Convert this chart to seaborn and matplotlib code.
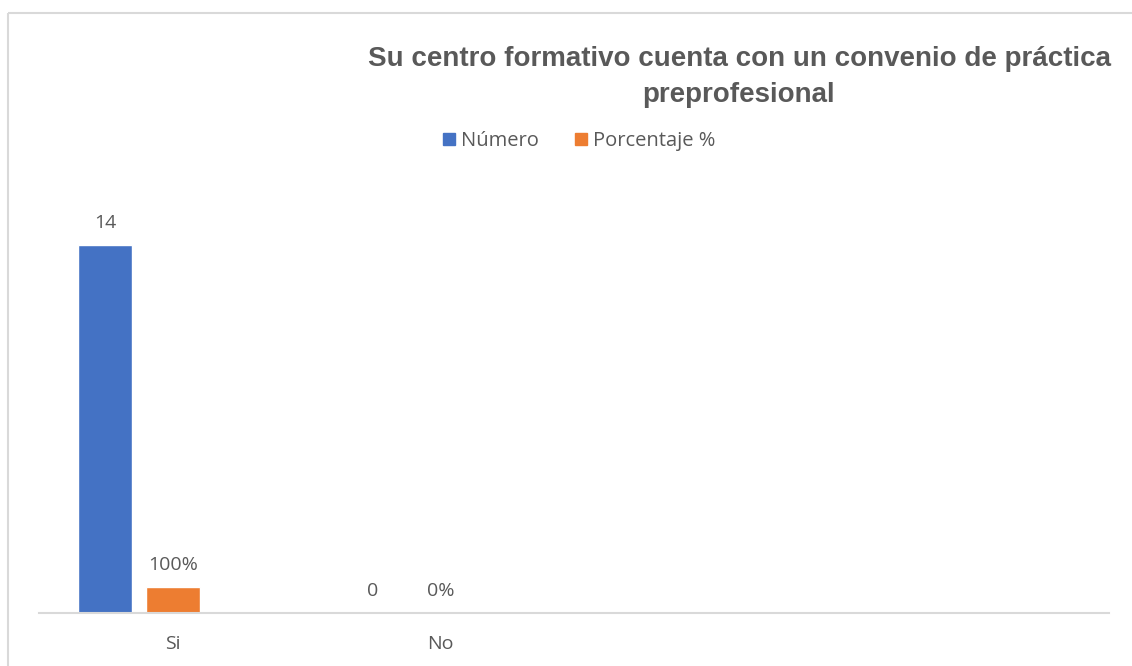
import numpy as np
import pandas as pd
import seaborn as sns
import matplotlib.pyplot as plt
from matplotlib.patches import Patch
from matplotlib.lines import Line2D

# data
categories = ["Si", "No"]
numero = [14, 0]
porcentaje = [1.0, 0.0]          # 100% drawn as 1 on the same axis
numero_labels = ["14", "0"]
porcentaje_labels = ["100%", "0%"]
series = ["Número", "Porcentaje %"]
title = "Su centro formativo cuenta con un convenio de práctica\npreprofesional"

BLUE = "#4472C4"
ORANGE = "#ED7D31"
TEXT = "#595959"
LINE = "#D9D9D9"

sns.set_theme(style="white")
plt.rcParams["font.family"] = ["Open Sans", "DejaVu Sans"]

df = pd.DataFrame({
    "categoria": categories * 2,
    "serie": [series[0]] * len(categories) + [series[1]] * len(categories),
    "valor": numero + porcentaje,
})

fig = plt.figure(figsize=(11.32, 6.66), dpi=100, facecolor="white",
                 edgecolor="white", linewidth=0)
ax = fig.add_axes([39 / 1132, 53 / 666, 1070 / 1132, 421 / 666])

# third empty hue level keeps the Excel-style slot spacing
hue_order = series + ["(vacío)"]
sns.barplot(data=df, x="categoria", y="valor", hue="serie", order=categories,
            hue_order=hue_order, palette=[BLUE, ORANGE, "white"],
            width=0.76, gap=0.21, legend=False, ax=ax, saturation=1)

ax.bar_label(ax.containers[0], labels=numero_labels, padding=9,
             fontsize=14, color=TEXT)
ax.bar_label(ax.containers[1], labels=porcentaje_labels, padding=9,
             fontsize=14, color=TEXT)

ax.set_xlim(-0.5, 3.5)
ax.set_ylim(0, 16)
ax.set_xlabel("")
ax.set_ylabel("")
ax.set_yticks([])
ax.tick_params(axis="x", length=0, pad=16, labelsize=14, labelcolor=TEXT)
for side in ["left", "right", "top"]:
    ax.spines[side].set_visible(False)
ax.spines["bottom"].set_color(LINE)
ax.spines["bottom"].set_linewidth(1.5)

handles = [Patch(color=BLUE, label=series[0]), Patch(color=ORANGE, label=series[1])]
fig.legend(handles=handles, loc="center", bbox_to_anchor=(579 / 1132, 1 - 141 / 666),
           ncol=2, frameon=False, fontsize=14.5, labelcolor=TEXT,
           handlelength=0.6, handleheight=0.6, handletextpad=0.3, columnspacing=1.8)

fig.text(739 / 1132, 1 - 77 / 666, title, ha="center", va="center",
         fontsize=20, fontweight="bold", color=TEXT, family="Liberation Sans",
         linespacing=1.5)

# chart border: only top and left edges are inside the image
top_y = 1 - 13 / 666
left_x = 8 / 1132
fig.lines.append(Line2D([left_x, 1.05], [top_y, top_y], transform=fig.transFigure,
                        color=LINE, linewidth=1.5, solid_capstyle="butt"))
fig.lines.append(Line2D([left_x, left_x], [-0.05, top_y], transform=fig.transFigure,
                        color=LINE, linewidth=1.5, solid_capstyle="butt"))

fig.savefig("out.png", dpi=100)
